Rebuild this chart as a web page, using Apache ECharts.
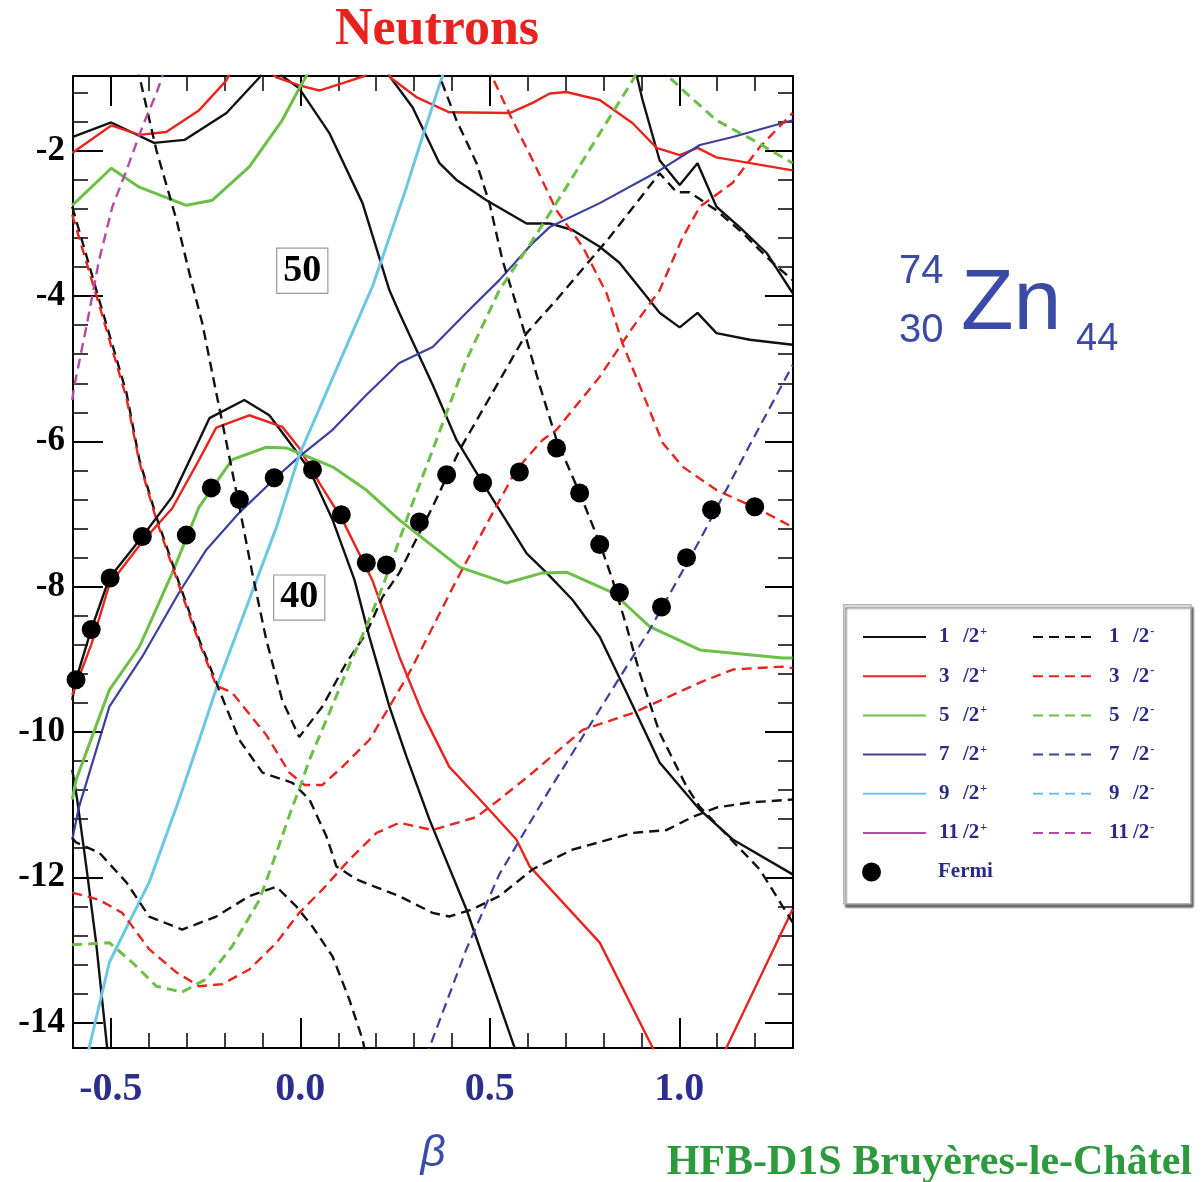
<!DOCTYPE html>
<html>
<head>
<meta charset="utf-8">
<script src="https://cdn.jsdelivr.net/npm/echarts@6/dist/echarts.min.js"></script>
<style>html,body{margin:0;padding:0;background:#fff}#c{width:1204px;height:1182px}</style>
</head>
<body>
<div id="c"></div>
<script>
// ---- tick values ----
const xMajor = [-0.5, 0.0, 0.5, 1.0];
const xMinor = [-0.6,-0.5,-0.4,-0.3,-0.2,-0.1,0,0.1,0.2,0.3,0.4,0.5,0.6,0.7,0.8,0.9,1.0,1.1,1.2,1.3];
const yMajor = [-14,-12,-10,-8,-6,-4,-2];
const yMinor = [-14,-13.6,-13.2,-12.8,-12.4,-12,-11.6,-11.2,-10.8,-10.4,-10,-9.6,-9.2,-8.8,-8.4,-8,-7.6,-7.2,-6.8,-6.4,-6,-5.6,-5.2,-4.8,-4.4,-4,-3.6,-3.2,-2.8,-2.4,-2,-1.6,-1.2];
const legendPos = ['1/2+','3/2+','5/2+','7/2+','9/2+','11/2+'];
const legendNeg = ['1/2-','3/2-','5/2-','7/2-','9/2-','11/2-'];
const shellGaps = [[0.005,-3.65,'50'],[-0.003,-8.15,'40']];

// ---- 1/2+ (black solid) ----
const p1a = [[-0.602,-1.81],[-0.499,-1.61],[-0.386,-1.89],[-0.306,-1.85],[-0.195,-1.48],[-0.108,-0.99],[-0.100,-0.88]];
const p1b = [[0.222,-0.84],[0.235,-0.97],[0.296,-1.40],[0.341,-1.89],[0.367,-2.17],[0.412,-2.40],[0.491,-2.68],[0.597,-3.00],[0.658,-3.00],[0.718,-3.09],[0.790,-3.32],[0.842,-3.54],[0.948,-4.23],[1.001,-4.43],[1.048,-4.23],[1.098,-4.51],[1.186,-4.60],[1.299,-4.67]];
const p1c = [[-0.061,-0.86],[-0.048,-0.97],[-0.003,-1.14],[0.077,-1.76],[0.164,-2.72],[0.235,-3.92],[0.261,-4.23],[0.349,-5.22],[0.412,-5.98],[0.481,-6.57],[0.597,-7.54],[0.650,-7.81],[0.718,-8.18],[0.790,-8.69],[0.861,-9.46],[0.948,-10.42],[1.054,-11.07],[1.141,-11.48],[1.299,-11.96]];
const p1d = [[0.882,-0.84],[0.903,-1.30],[0.948,-2.13],[1.001,-2.47],[1.048,-2.17],[1.098,-2.77],[1.159,-3.05],[1.231,-3.41],[1.299,-3.96]];
const p1e = [[-0.602,-9.56],[-0.592,-9.28],[-0.552,-8.59],[-0.504,-7.88],[-0.417,-7.31],[-0.338,-6.76],[-0.267,-5.98],[-0.240,-5.68],[-0.148,-5.43],[-0.082,-5.64],[-0.003,-6.19],[0.024,-6.39],[0.085,-7.08],[0.143,-7.91],[0.182,-8.69],[0.235,-9.65],[0.280,-10.34],[0.341,-11.21],[0.438,-12.44],[0.565,-14.34],[0.573,-14.48]];
const p1f = [[-0.602,-10.52],[-0.589,-10.93],[-0.565,-11.85],[-0.539,-12.90],[-0.510,-14.34],[-0.507,-14.48]];

// ---- 1/2- (black dashed) ----
const m1a = [[-0.430,-0.84],[-0.425,-0.97],[-0.380,-1.99],[-0.327,-2.95],[-0.293,-3.68],[-0.259,-4.37],[-0.222,-5.33],[-0.195,-6.02],[-0.161,-6.90],[-0.127,-7.81],[-0.090,-8.73],[-0.048,-9.56],[-0.003,-10.07],[0.058,-9.65],[0.121,-9.05],[0.174,-8.64],[0.217,-8.14],[0.261,-7.81],[0.349,-6.90],[0.420,-6.12],[0.507,-5.33],[0.597,-4.51],[0.676,-4.05],[0.816,-3.19],[0.948,-2.31],[0.993,-2.57],[1.027,-2.57],[1.098,-2.82],[1.167,-3.13],[1.246,-3.54],[1.299,-3.78]];
const m1b = [[0.359,-0.84],[0.367,-0.97],[0.412,-1.58],[0.465,-2.17],[0.499,-2.72],[0.533,-3.50],[0.570,-4.12],[0.597,-4.60],[0.631,-5.22],[0.676,-5.98],[0.737,-6.71],[0.790,-7.40],[0.824,-7.91],[0.861,-8.55],[0.895,-9.18],[0.948,-10.01],[1.019,-10.75],[1.054,-11.03],[1.212,-11.89],[1.299,-12.62]];
const m1c = [[-0.602,-2.77],[-0.531,-4.05],[-0.459,-5.33],[-0.425,-6.25],[-0.380,-7.04],[-0.320,-7.95],[-0.267,-8.73],[-0.222,-9.32],[-0.161,-10.11],[-0.100,-10.56],[-0.021,-10.70],[0.024,-10.93],[0.069,-11.44],[0.095,-11.85],[0.148,-12.03],[0.261,-12.26],[0.349,-12.49],[0.393,-12.54],[0.454,-12.44],[0.525,-12.26],[0.613,-11.89],[0.718,-11.62],[0.877,-11.39],[0.966,-11.35],[1.035,-11.17],[1.098,-11.04],[1.186,-10.97],[1.299,-10.93]];
const m1d = [[-0.602,-11.46],[-0.592,-11.52],[-0.531,-11.66],[-0.459,-12.07],[-0.399,-12.54],[-0.312,-12.72],[-0.222,-12.54],[-0.135,-12.26],[-0.063,-12.13],[-0.011,-12.40],[0.032,-12.68],[0.085,-13.09],[0.129,-13.68],[0.164,-14.23],[0.174,-14.48]];

// ---- 3/2+ (red solid) ----
const p3a = [[-0.602,-2.03],[-0.499,-1.65],[-0.425,-1.78],[-0.354,-1.74],[-0.267,-1.44],[-0.195,-1.03],[-0.180,-0.86]];
const p3b = [[-0.095,-0.84],[-0.063,-0.99],[-0.003,-1.10],[0.050,-1.17],[0.116,-1.06],[0.169,-0.97],[0.187,-0.86]];
const p3c = [[0.222,-0.84],[0.240,-1.00],[0.306,-1.26],[0.393,-1.47],[0.552,-1.48],[0.613,-1.34],[0.658,-1.21],[0.702,-1.19],[0.790,-1.30],[0.877,-1.62],[0.940,-1.96],[1.001,-2.06],[1.048,-1.96],[1.098,-2.09],[1.299,-2.27]];
const p3d = [[-0.602,-9.49],[-0.552,-8.80],[-0.504,-7.97],[-0.417,-7.38],[-0.338,-6.92],[-0.267,-6.25],[-0.222,-5.81],[-0.135,-5.64],[-0.048,-5.80],[-0.003,-6.09],[0.050,-6.57],[0.111,-7.08],[0.190,-7.91],[0.261,-8.96],[0.322,-9.74],[0.393,-10.48],[0.481,-10.97],[0.570,-11.48],[0.605,-11.85],[0.790,-12.90],[0.929,-14.34],[0.943,-14.48]];
const p3e = [[1.112,-14.48],[1.125,-14.34],[1.299,-12.44]];

// ---- 3/2- (red dashed) ----
const m3a = [[-0.602,-2.88],[-0.531,-4.12],[-0.459,-5.40],[-0.425,-6.28],[-0.380,-7.08],[-0.320,-7.99],[-0.267,-8.77],[-0.222,-9.36],[-0.180,-9.46],[-0.090,-10.04],[-0.029,-10.56],[0.011,-10.73],[0.058,-10.73],[0.111,-10.48],[0.182,-10.11],[0.235,-9.65],[0.288,-9.18],[0.341,-8.64],[0.412,-7.91],[0.507,-6.99],[0.570,-6.39],[0.639,-5.98],[0.676,-5.84],[0.790,-5.11],[0.877,-4.43],[0.948,-3.92],[1.009,-3.19],[1.054,-2.77],[1.141,-2.44],[1.212,-1.95],[1.299,-1.48]];
const m3b = [[-0.602,-12.21],[-0.531,-12.31],[-0.470,-12.49],[-0.399,-12.99],[-0.327,-13.31],[-0.267,-13.50],[-0.206,-13.47],[-0.135,-13.27],[-0.063,-12.90],[-0.003,-12.49],[0.058,-12.17],[0.129,-11.76],[0.201,-11.39],[0.261,-11.25],[0.349,-11.35],[0.465,-11.17],[0.525,-10.93],[0.613,-10.56],[0.745,-9.97],[0.877,-9.74],[1.054,-9.32],[1.141,-9.14],[1.273,-9.10],[1.299,-9.12]];
const m3c = [[0.491,-0.84],[0.507,-0.99],[0.560,-1.58],[0.613,-2.13],[0.676,-2.82],[0.745,-3.32],[0.808,-3.96],[0.850,-4.65],[0.903,-5.33],[0.956,-6.02],[1.009,-6.35],[1.098,-6.67],[1.212,-6.94],[1.299,-7.18]];

// ---- 5/2+ (green solid) ----
const p5a = [[-0.602,-2.75],[-0.499,-2.24],[-0.425,-2.50],[-0.301,-2.75],[-0.232,-2.68],[-0.135,-2.22],[-0.048,-1.58],[-0.003,-1.14],[0.016,-0.97],[0.026,-0.84]];
const p5b = [[-0.602,-10.93],[-0.592,-10.66],[-0.504,-9.42],[-0.425,-8.83],[-0.338,-7.81],[-0.267,-6.90],[-0.180,-6.25],[-0.090,-6.08],[-0.037,-6.09],[-0.003,-6.16],[0.085,-6.35],[0.174,-6.67],[0.261,-7.08],[0.420,-7.73],[0.544,-7.95],[0.639,-7.81],[0.702,-7.80],[0.824,-8.08],[0.922,-8.55],[1.054,-8.87],[1.273,-8.98],[1.299,-8.98]];

// ---- 5/2- (green dashed) ----
const m5a = [[-0.602,-12.93],[-0.504,-12.90],[-0.444,-13.17],[-0.380,-13.50],[-0.312,-13.58],[-0.248,-13.40],[-0.180,-12.95],[-0.108,-12.31],[-0.063,-11.66],[-0.021,-11.03],[-0.003,-10.79],[0.024,-10.38],[0.069,-9.83],[0.121,-9.18],[0.174,-8.55],[0.217,-8.00],[0.261,-7.36],[0.296,-6.85],[0.349,-6.12],[0.438,-4.88],[0.525,-3.92],[0.613,-3.23],[0.702,-2.50],[0.790,-1.76],[0.877,-1.03],[0.895,-0.84]];
const m5b = [[0.948,-0.84],[0.974,-0.99],[1.019,-1.21],[1.098,-1.58],[1.194,-1.85],[1.299,-2.17]];

// ---- 7/2 (blue) ----
const p7a = [[-0.602,-11.48],[-0.584,-11.03],[-0.504,-9.65],[-0.417,-8.96],[-0.320,-8.08],[-0.248,-7.49],[-0.161,-6.98],[-0.063,-6.49],[-0.003,-6.21],[0.085,-5.84],[0.174,-5.36],[0.261,-4.92],[0.349,-4.70],[0.438,-4.23],[0.525,-3.78],[0.613,-3.27],[0.658,-3.05],[0.790,-2.72],[0.948,-2.27],[1.054,-1.92],[1.141,-1.81],[1.299,-1.58]];
const m7a = [[0.330,-14.48],[0.341,-14.34],[0.438,-12.99],[0.525,-11.96],[0.658,-10.79],[0.790,-9.69],[0.922,-8.59],[1.054,-7.36],[1.186,-6.05],[1.299,-4.95]];

// ---- 9/2+ (cyan) ----
const p9a = [[-0.562,-14.48],[-0.557,-14.34],[-0.504,-13.17],[-0.452,-12.62],[-0.399,-12.07],[-0.320,-10.93],[-0.267,-10.11],[-0.214,-9.28],[-0.135,-8.18],[-0.063,-7.18],[-0.003,-6.19],[0.085,-5.13],[0.190,-3.87],[0.235,-3.19],[0.280,-2.50],[0.322,-1.81],[0.375,-0.97],[0.386,-0.84]];

// ---- 11/2- (magenta dashed) ----
const m11a = [[-0.602,-5.43],[-0.597,-5.25],[-0.565,-4.43],[-0.531,-3.50],[-0.496,-2.77],[-0.459,-2.27],[-0.417,-1.67],[-0.380,-1.21],[-0.364,-0.97],[-0.356,-0.84]];

// ---- Fermi level ----
const fermi = [[-0.592,-9.28],[-0.552,-8.59],[-0.502,-7.88],[-0.417,-7.31],[-0.301,-7.29],[-0.235,-6.64],[-0.161,-6.80],[-0.069,-6.50],[0.032,-6.39],[0.108,-7.01],[0.174,-7.67],[0.227,-7.70],[0.314,-7.11],[0.386,-6.46],[0.481,-6.57],[0.578,-6.42],[0.676,-6.09],[0.737,-6.71],[0.790,-7.42],[0.842,-8.08],[0.953,-8.28],[1.019,-7.60],[1.085,-6.94],[1.199,-6.90]];

const C = {k:'#111111', r:'#e8241e', g:'#6cbf47', b:'#3b3f9e', c:'#6cc7e6', m:'#b54aa5'};
const DASH = [10,6];
function ln(name, data, color, width, dashed) {
  return {type:'line', name:name, data:data, symbol:'none', showSymbol:false, clip:true, silent:true,
    lineStyle:{color:color, width:width, type: dashed ? DASH : 'solid'}, itemStyle:{color:color}, z:2};
}
const series = [
  ln('1/2+', p1a, C.k, 2.4), ln('1/2+', p1b, C.k, 2.4), ln('1/2+', p1c, C.k, 2.4), ln('1/2+', p1d, C.k, 2.4), ln('1/2+', p1e, C.k, 2.4), ln('1/2+', p1f, C.k, 2.4),
  ln('3/2+', p3a, C.r, 2.4), ln('3/2+', p3b, C.r, 2.4), ln('3/2+', p3c, C.r, 2.4), ln('3/2+', p3d, C.r, 2.4), ln('3/2+', p3e, C.r, 2.4),
  ln('5/2+', p5a, C.g, 3.0), ln('5/2+', p5b, C.g, 3.0),
  ln('7/2+', p7a, C.b, 2.2),
  ln('9/2+', p9a, C.c, 3.0),
  ln('11/2+', [], C.m, 2.4),
  ln('1/2-', m1a, C.k, 2.4, true), ln('1/2-', m1b, C.k, 2.4, true), ln('1/2-', m1c, C.k, 2.4, true), ln('1/2-', m1d, C.k, 2.4, true),
  ln('3/2-', m3a, C.r, 2.4, true), ln('3/2-', m3b, C.r, 2.4, true), ln('3/2-', m3c, C.r, 2.4, true),
  ln('5/2-', m5a, C.g, 3.0, true), ln('5/2-', m5b, C.g, 3.0, true),
  ln('7/2-', m7a, C.b, 2.2, true),
  ln('9/2-', [], C.c, 3.0, true),
  ln('11/2-', m11a, C.m, 2.4, true),
  {type:'scatter', name:'Fermi', data:fermi, symbol:'circle', symbolSize:19, itemStyle:{color:'#000', opacity:1}, z:5, silent:true},
  {type:'scatter', name:'gaps', data:shellGaps, symbolSize:1, itemStyle:{color:'transparent', opacity:1}, z:6, silent:true,
    label:{show:true, position:'inside', formatter:p=>p.data[2], fontFamily:'Liberation Serif', fontWeight:'bold', fontSize:38, color:'#000',
      borderColor:'#999', borderWidth:1.2, padding:[4,6,2,6], backgroundColor:'#fff'}}
];

const serif = 'Liberation Serif';
function xAx(pos, vals, len, w, withLabel) {
  const a = {type:'value', min:-0.6, max:1.3, position:pos, gridIndex:0,
    axisLine:{show:withLabel!==undefined, onZero:false, lineStyle:{color:'#000', width:2}},
    axisTick:{show:true, inside:true, length:len, customValues:vals, lineStyle:{color:'#000', width:w}},
    axisLabel:{show:false}, splitLine:{show:false}};
  if (withLabel) {
    a.axisLabel = {show:true, customValues:xMajor, formatter:v=>v.toFixed(1), fontSize:40, fontWeight:'bold', fontFamily:serif, color:'#2b2e8c', margin:22};
    a.name = 'β'; a.nameLocation = 'middle'; a.nameGap = 84;
    a.nameTextStyle = {fontSize:44, fontStyle:'italic', fontFamily:'Liberation Sans', color:'#3a4cae'};
  }
  return a;
}
function yAx(pos, vals, len, w, withLabel) {
  const a = {type:'value', min:-14.35, max:-0.97, position:pos, gridIndex:0,
    axisLine:{show:withLabel!==undefined, onZero:false, lineStyle:{color:'#000', width:2}},
    axisTick:{show:true, inside:true, length:len, customValues:vals, lineStyle:{color:'#000', width:w}},
    axisLabel:{show:false}, splitLine:{show:false}};
  if (withLabel) {
    a.axisLabel = {show:true, customValues:yMajor, formatter:v=>String(v), fontSize:35, fontWeight:'bold', fontFamily:serif, color:'#000', margin:8};
  }
  return a;
}

function legendFmt(name) {
  const num = name.split('/')[0];
  const sign = name.slice(-1);
  return '{n|' + num + '}{sl|/2}{s|' + sign + '}';
}
const legRich = {
  n:{fontSize:21, fontWeight:'bold', fontFamily:serif, color:'#2b2a86', width:24, lineHeight:22},
  sl:{fontSize:21, fontWeight:'bold', fontFamily:serif, color:'#2b2a86', lineHeight:22},
  s:{fontSize:12, fontWeight:'bold', fontFamily:serif, color:'#2b2a86', lineHeight:22, verticalAlign:'top', padding:[0,0,0,1]}
};
const legBase = {orient:'vertical', top:626, padding:0, itemWidth:63, itemHeight:14, itemGap:17.7, selectedMode:false,
  itemStyle:{opacity:0}, formatter:legendFmt, textStyle:{padding:[0,0,0,8], rich:legRich}};

const option = {
  animation:false,
  backgroundColor:'#ffffff',
  grid:{left:73, top:76, width:720, height:972, containLabel:false},
  xAxis:[xAx('bottom', xMajor, 30, 2, true), xAx('bottom', xMinor, 15, 1.5), xAx('top', xMajor, 30, 2, false), xAx('top', xMinor, 15, 1.5)],
  yAxis:[yAx('left', yMajor, 30, 2, true), yAx('left', yMinor, 15, 1.5), yAx('right', yMajor, 28, 2, false), yAx('right', yMinor, 15, 1.5)],
  legend:[
    Object.assign({}, legBase, {data:legendPos, left:862}),
    Object.assign({}, legBase, {data:legendNeg, left:1032}),
    {data:['Fermi'], orient:'vertical', left:862, top:861, padding:0, itemWidth:19, itemHeight:19, selectedMode:false,
      itemStyle:{opacity:1, color:'#000'},
      textStyle:{padding:[0,0,0,52], fontSize:21, fontWeight:'bold', fontFamily:serif, color:'#2b2a86', lineHeight:22}}
  ],
  graphic:[
    {type:'rect', left:843, top:604, shape:{width:347, height:299}, z:0,
      style:{fill:'#fff', stroke:'#b5b5b5', lineWidth:1.5, shadowColor:'rgba(0,0,0,0.55)', shadowOffsetX:2, shadowOffsetY:3, shadowBlur:2}},
    {type:'text', x:437, y:31, z:10, style:{text:'Neutrons', font:'bold 52px "Liberation Serif"', fill:'#e8231f', textAlign:'center', textVerticalAlign:'middle'}},
    {type:'text', x:1192, y:1163, z:10, style:{text:'HFB-D1S Bruyères-le-Châtel', font:'bold 42px "Liberation Serif"', fill:'#2e9a3e', textAlign:'right', textVerticalAlign:'middle'}},
    {type:'text', x:899, y:272, z:10, style:{text:'74', font:'40px "Liberation Sans"', fill:'#3a4aa6', textAlign:'left', textVerticalAlign:'middle'}},
    {type:'text', x:899, y:331, z:10, style:{text:'30', font:'40px "Liberation Sans"', fill:'#3a4aa6', textAlign:'left', textVerticalAlign:'middle'}},
    {type:'text', x:961, y:305, z:10, style:{text:'Zn', font:'86px "Liberation Sans"', fill:'#3a4aa6', textAlign:'left', textVerticalAlign:'middle'}},
    {type:'text', x:1076, y:340, z:10, style:{text:'44', font:'38px "Liberation Sans"', fill:'#3a4aa6', textAlign:'left', textVerticalAlign:'middle'}}
  ],
  series:series
};
const chart = echarts.init(document.getElementById('c'), null, {renderer:'canvas'});
chart.setOption(option);
</script>
</body>
</html>
